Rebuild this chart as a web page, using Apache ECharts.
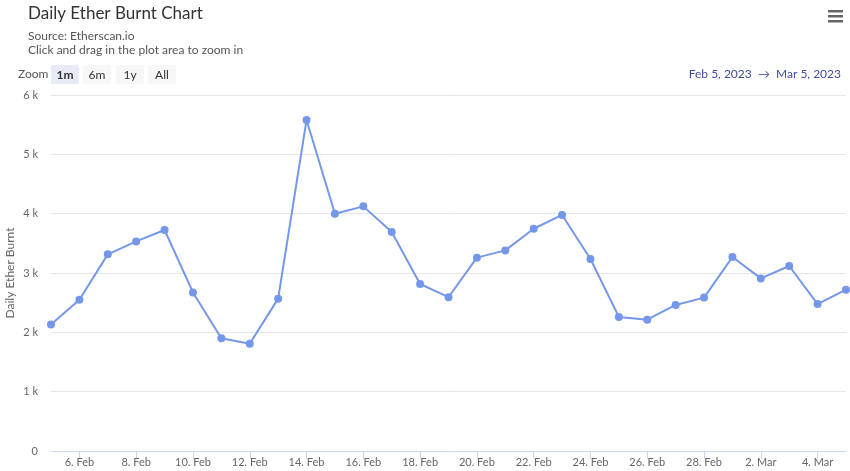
<!DOCTYPE html>
<html>
<head>
<meta charset="utf-8">
<script src="https://cdn.jsdelivr.net/npm/echarts@6/dist/echarts.min.js"></script>
<style>html,body{margin:0;padding:0;background:#fff}#c{width:850px;height:471px}</style>
</head>
<body>
<div id="c"></div>
<script>
const categories = ['5. Feb','6. Feb','7. Feb','8. Feb','9. Feb','10. Feb','11. Feb','12. Feb','13. Feb','14. Feb','15. Feb','16. Feb','17. Feb','18. Feb','19. Feb','20. Feb','21. Feb','22. Feb','23. Feb','24. Feb','25. Feb','26. Feb','27. Feb','28. Feb','1. Mar','2. Mar','3. Mar','4. Mar','5. Mar'];
const burnt = [2130,2550,3314,3533,3725,2673,1899,1809,2568,5578,4000,4123,3692,2815,2592,3259,3381,3746,3978,3236,2260,2214,2462,2585,3270,2909,3118,2477,2719];
const yTicks = [0,1000,2000,3000,4000,5000,6000];
const zoomButtons = ['1m','6m','1y','All'];

const FONT = 'Lato, "Noto Sans", sans-serif';
const chart = echarts.init(document.getElementById('c'));

const btnX = [51,83,116,148];
const btnGraphics = zoomButtons.map((b,i)=>({
  type:'group', left: btnX[i], top: 65,
  children:[
    {type:'rect', shape:{x:0,y:0,width:28,height:19,r:2}, style:{fill: i===0 ? '#e6ebf5' : '#f7f7f7'}},
    {type:'text', x:14, y:10, style:{text:b, fill:'#333', font: (i===0?'bold ':'')+'12px '+FONT, textAlign:'center', textVerticalAlign:'middle'}}
  ]
}));

chart.setOption({
  animation:false,
  title:{
    text:'Daily Ether Burnt Chart',
    subtext:'Source: Etherscan.io\nClick and drag in the plot area to zoom in',
    left:28, top:5, itemGap:7, padding:0,
    textStyle:{fontFamily:FONT, fontSize:17, fontWeight:'normal', color:'#333'},
    subtextStyle:{fontFamily:FONT, fontSize:12, color:'#555', lineHeight:14}
  },
  graphic:[
    {type:'text', left:18, top:68, style:{text:'Zoom', fill:'#555', font:'12px '+FONT}},
    ...btnGraphics,
    {type:'text', right:9, top:68, style:{text:'Feb 5, 2023  \u2192  Mar 5, 2023', fill:'#3f4ca0', font:'12px '+FONT}},
    {type:'group', right:7, top:10, children:[
      {type:'rect', shape:{x:0,y:0,width:15,height:2.5}, style:{fill:'#666'}},
      {type:'rect', shape:{x:0,y:5,width:15,height:2.5}, style:{fill:'#666'}},
      {type:'rect', shape:{x:0,y:10,width:15,height:2.5}, style:{fill:'#666'}}
    ]}
  ],
  grid:{left:51, right:4, top:95, bottom:20, containLabel:false, outerBoundsMode:'none'},
  xAxis:{
    type:'category', data:categories, boundaryGap:false,
    axisLine:{lineStyle:{color:'#ccd6eb', width:1}},
    axisTick:{show:true, interval:(i)=>i%2===1, length:8, lineStyle:{color:'#ccd6eb'}},
    axisLabel:{interval:(i)=>i%2===1, color:'#666', fontFamily:FONT, fontSize:11, margin:6},
    splitLine:{show:false}
  },
  yAxis:{
    type:'value', min:yTicks[0], max:yTicks[yTicks.length-1], interval:1000,
    name:'Daily Ether Burnt', nameLocation:'middle', nameGap:35, nameRotate:90,
    nameMoveOverlap:false,
    nameTextStyle:{color:'#666', fontFamily:FONT, fontSize:12},
    axisLine:{show:false}, axisTick:{show:false},
    axisLabel:{color:'#666', fontFamily:FONT, fontSize:11, margin:13,
      formatter:(v)=> v===0 ? '0' : (v/1000)+' k'},
    splitLine:{lineStyle:{color:'#e6e6e6', width:1}}
  },
  series:[{
    type:'line', data:burnt,
    symbol:'circle', symbolSize:8, showSymbol:true,
    lineStyle:{color:'#7597ea', width:2},
    itemStyle:{color:'#7597ea'},
    clip:false
  }]
});
</script>
</body>
</html>
